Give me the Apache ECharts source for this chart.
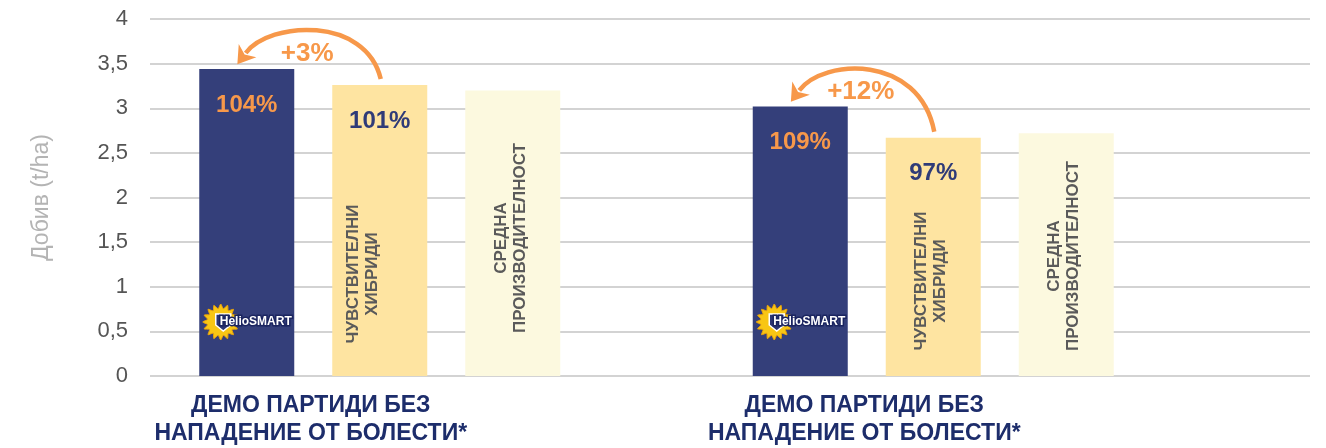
<!DOCTYPE html>
<html>
<head>
<meta charset="utf-8">
<script src="https://cdn.jsdelivr.net/npm/echarts@6/dist/echarts.min.js"></script>
<style>
  html, body { margin: 0; padding: 0; background: #fff; }
  #chart { width: 1326px; height: 448px; }
</style>
</head>
<body>
<div id="chart"></div>
<script>
// данни
const groups = ['ДЕМО ПАРТИДИ БЕЗ\nНАПАДЕНИЕ ОТ БОЛЕСТИ*', 'ДЕМО ПАРТИДИ БЕЗ\nНАПАДЕНИЕ ОТ БОЛЕСТИ*']
const helioSmart = [3.44, 3.02]
const sensitiveHybrids = [3.26, 2.67]
const averageYield = [3.2, 2.72]
const helioPct = ['104%', '109%']
const hybridPct = ['101%', '97%']
const gains = ['+3%', '+12%']
const hybridText = 'ЧУВСТВИТЕЛНИ\nХИБРИДИ'
const averageText = 'СРЕДНА\nПРОИЗВОДИТЕЛНОСТ'
const yTicks = { min: 0, max: 4, step: 0.5 }

const NAVY = '#343f7a'
const ORANGE = '#f7984a'
const BAR_W = 95
const BAR_STEP = 133 // ширина + разстояние
const FONT = 'Liberation Sans, Arial, sans-serif'

// разположение на вертикалните надписи (изместване, височина на центъра)
const vertLayout = {
  hybrid: { dx: [-17, -2], lift: [102, 95] },
  average: { dx: [-2, -2], lift: [138, 120] },
}

function renderExtras(params, api) {
  const i = api.value(0)
  const base = api.coord([i, 0])
  const cx = base[0]
  const y0 = base[1]
  const x1 = cx - BAR_STEP
  const x2 = cx
  const x3 = cx + BAR_STEP
  const t1 = api.coord([i, helioSmart[i]])[1]
  const t2 = api.coord([i, sensitiveHybrids[i]])[1]
  const children = []

  // стрелка от 2-ри към 1-ви стълб
  const S = [x2 + 1, t2 - 6]
  const E = [x1 - 1, t1 - 16]
  const c1 = [S[0] - 15, t1 - 53]
  const c2 = [E[0] + 24, t1 - 48]
  let dx = E[0] - c2[0]
  let dy = E[1] - c2[1]
  const len = Math.sqrt(dx * dx + dy * dy)
  dx /= len
  dy /= len
  const tip = [E[0] + dx * 14, E[1] + dy * 14]
  const hb = [E[0] - dx * 3, E[1] - dy * 3]
  const notch = [E[0] + dx * 2, E[1] + dy * 2]
  children.push({
    type: 'bezierCurve',
    shape: { x1: S[0], y1: S[1], x2: E[0], y2: E[1], cpx1: c1[0], cpy1: c1[1], cpx2: c2[0], cpy2: c2[1] },
    style: { stroke: ORANGE, lineWidth: 4.5, fill: null },
  })
  children.push({
    type: 'polygon',
    shape: { points: [tip, [hb[0] - dy * 11, hb[1] + dx * 11], notch, [hb[0] + dy * 11, hb[1] - dx * 11]] },
    style: { fill: ORANGE },
  })
  children.push({
    type: 'text',
    x: (x1 + x2) / 2 - 6,
    y: t1 - 15,
    style: { text: gains[i], fill: ORANGE, font: 'bold 26px ' + FONT, align: 'center', verticalAlign: 'middle' },
  })

  // вертикални надписи
  children.push({
    type: 'text',
    x: x2 + vertLayout.hybrid.dx[i],
    y: y0 - vertLayout.hybrid.lift[i],
    rotation: Math.PI / 2,
    style: { text: hybridText, fill: '#5a5a5a', font: 'bold 17px ' + FONT, lineHeight: 19, align: 'center', verticalAlign: 'middle' },
  })
  children.push({
    type: 'text',
    x: x3 + vertLayout.average.dx[i],
    y: y0 - vertLayout.average.lift[i],
    rotation: Math.PI / 2,
    style: { text: averageText, fill: '#5a5a5a', font: 'bold 17px ' + FONT, lineHeight: 19, align: 'center', verticalAlign: 'middle' },
  })

  // лого HelioSMART
  const lx = x1 - 26
  const ly = y0 - 54
  const pts = []
  for (let k = 0; k < 32; k++) {
    const r = k % 2 === 0 ? 18 : 13.5
    const a = (k / 32) * Math.PI * 2
    pts.push([lx + Math.cos(a) * r, ly + Math.sin(a) * r])
  }
  children.push({ type: 'polygon', shape: { points: pts, smooth: 0.2 }, style: { fill: '#f8c614', stroke: '#eaa20a', lineWidth: 1 } })
  children.push({
    type: 'polygon',
    shape: { points: [[lx - 5, ly - 8], [lx + 10, ly - 8], [lx + 10, ly + 3], [lx + 2.5, ly + 9], [lx - 5, ly + 3]] },
    style: { fill: '#2b3572', stroke: '#fff', lineWidth: 1.5 },
  })
  children.push({
    type: 'text',
    x: lx - 1,
    y: ly,
    style: { text: 'HelioSMART', fill: '#fff', stroke: '#1b2560', lineWidth: 3, font: 'bold 12px ' + FONT, align: 'left', verticalAlign: 'middle' },
  })

  return { type: 'group', children }
}

const chart = echarts.init(document.getElementById('chart'))
const option = {
  animation: false,
  grid: [
    { left: 150, right: 16, top: 19, bottom: 72 },
    { left: 103, width: 1107, top: 19, bottom: 72 },
  ],
  xAxis: [
    { gridIndex: 0, type: 'value', show: false },
    {
      gridIndex: 1,
      type: 'category',
      data: groups,
      axisLine: { show: false },
      axisTick: { show: false },
      axisLabel: {
        interval: 0,
        margin: 16,
        padding: [0, 138, 0, 0],
        formatter: (v) => v.split('\n').map((s) => '{a|' + s + '}').join('\n'),
        rich: {
          a: { fontSize: 23, fontWeight: 'bold', fontFamily: FONT, color: '#1d2d6b', lineHeight: 28, align: 'center' },
        },
      },
    },
  ],
  yAxis: [
    {
      gridIndex: 0,
      type: 'value',
      min: yTicks.min,
      max: yTicks.max,
      interval: yTicks.step,
      name: 'Добив (t/ha)',
      nameLocation: 'middle',
      nameGap: 97,
      nameTextStyle: { color: '#b4b4b4', fontSize: 23, fontFamily: FONT },
      axisLine: { show: false },
      axisTick: { show: false },
      axisLabel: {
        margin: 22,
        color: '#555',
        fontSize: 22,
        fontFamily: FONT,
        formatter: (v) => String(v).replace('.', ','),
      },
      splitLine: { lineStyle: { color: '#c4c4c4', width: 1.5 } },
    },
    { gridIndex: 1, type: 'value', min: yTicks.min, max: yTicks.max, show: false },
  ],
  series: [
    {
      type: 'bar',
      name: 'HelioSMART',
      xAxisIndex: 1,
      yAxisIndex: 1,
      data: helioSmart,
      barWidth: BAR_W,
      barGap: '40%',
      itemStyle: { color: NAVY },
      label: {
        show: true,
        position: 'insideTop',
        distance: 24,
        formatter: (p) => helioPct[p.dataIndex],
        color: ORANGE,
        fontSize: 24,
        fontWeight: 'bold',
        fontFamily: FONT,
      },
    },
    {
      type: 'bar',
      name: 'Чувствителни хибриди',
      xAxisIndex: 1,
      yAxisIndex: 1,
      data: sensitiveHybrids,
      barWidth: BAR_W,
      barGap: '40%',
      itemStyle: { color: '#fee4a1' },
      label: {
        show: true,
        position: 'insideTop',
        distance: 24,
        formatter: (p) => hybridPct[p.dataIndex],
        color: '#2f3b78',
        fontSize: 24,
        fontWeight: 'bold',
        fontFamily: FONT,
      },
    },
    {
      type: 'bar',
      name: 'Средна производителност',
      xAxisIndex: 1,
      yAxisIndex: 1,
      data: averageYield,
      barWidth: BAR_W,
      barGap: '40%',
      itemStyle: { color: '#fcf9df' },
    },
    {
      type: 'custom',
      xAxisIndex: 1,
      yAxisIndex: 1,
      clip: false,
      silent: true,
      z: 5,
      data: groups.map((g, i) => [i, 0]),
      encode: { x: 0, y: 1 },
      renderItem: renderExtras,
    },
  ],
}
chart.setOption(option)
</script>
</body>
</html>
